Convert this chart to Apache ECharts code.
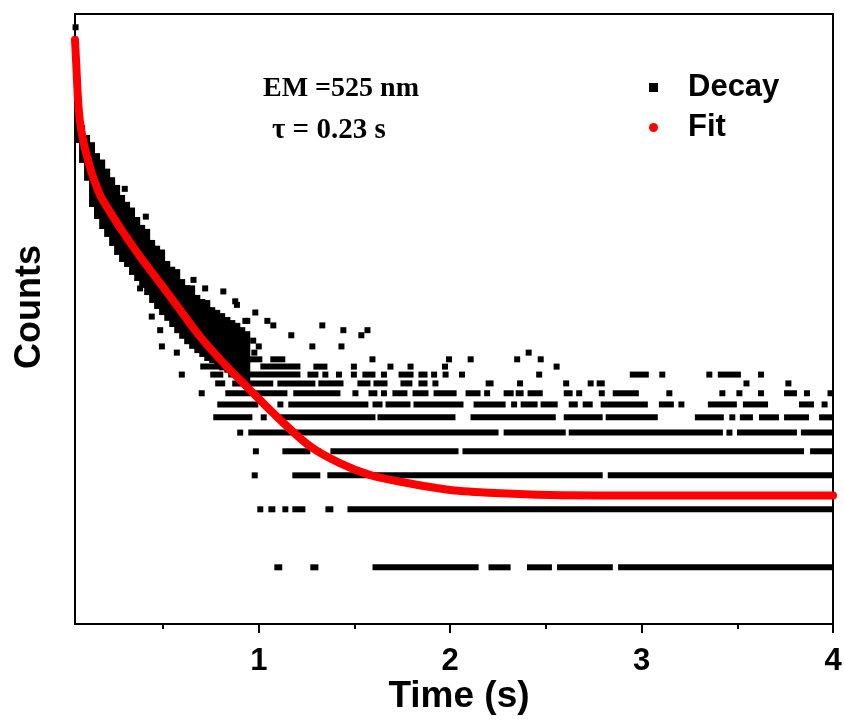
<!DOCTYPE html>
<html>
<head>
<meta charset="utf-8">
<script src="https://cdn.jsdelivr.net/npm/echarts@6/dist/echarts.min.js"></script>
<style>html,body{margin:0;padding:0;background:#fff}#chart{width:844px;height:720px}</style>
</head>
<body>
<div id="chart"></div>
<script>
// ---------- axis ranges / ticks ----------
const X_MIN = 0.04, X_MAX = 4;
const Y_MIN = 0.508, Y_MAX = 743;
const xMajorTicks = [1, 2, 3, 4];
const xMinorTicks = [0.5, 1.5, 2.5, 3.5];

// ---------- Fit curve (time s, counts) ----------
const fitTime   = [0.040, 0.048, 0.056, 0.066, 0.082, 0.103, 0.129, 0.171, 0.223, 0.276, 0.380, 0.485, 0.590, 0.694, 0.815, 0.940, 1.113, 1.270, 1.426, 1.583, 1.740, 2.002, 2.264, 2.525, 2.787, 3.310, 4.000];
const fitCounts = [546, 381, 266, 205, 165, 135, 110, 85.5, 69.8, 57.7, 40.9, 29.8, 21.6, 15.7, 11.5, 8.6, 5.81, 4.23, 3.46, 3.01, 2.78, 2.52, 2.42, 2.37, 2.36, 2.36, 2.36];

// ---------- Decay: runs of consecutive points at one count level [tFirst, tLast] ----------
const runsC1 = [[1.097,1.107],[1.285,1.296],[1.610,2.133],[2.216,2.300],[2.417,2.516],[2.574,2.834],[2.893,3.986]];
const runsC2 = [[1.008,1.008],[1.066,1.071],[1.139,1.139],[1.191,1.228],[1.364,1.374],[1.479,3.986]];
const runsC3 = [[0.979,0.979],[1.191,1.306],[1.374,2.781],[2.839,3.986]];
const runsC4 = [[0.985,0.985],[1.139,1.254],[1.309,1.309],[1.390,2.028],[2.080,3.833],[3.896,3.986]];
const runsC5 = [[0.903,0.903],[0.961,2.237],[2.295,2.588],[2.635,3.409],[3.459,3.459],[3.514,3.796],[3.848,3.986]];
const runsC6 = [[0.778,0.951],[1.026,1.026],[1.128,1.594],[1.636,2.012],[2.122,2.536],[2.609,2.781],[2.828,3.069],[3.294,3.414],[3.474,3.474],[3.529,3.566],[3.629,3.702],[3.760,3.859],[3.943,3.986]];
const runsC7 = [[0.799,0.982],[1.113,1.113],[1.170,1.557],[1.610,1.631],[1.678,1.777],[1.824,2.054],[2.138,2.274],[2.334,2.334],[2.384,2.441],[2.488,2.546],[2.635,2.651],[2.708,2.729],[2.802,3.017],[3.106,3.153],[3.208,3.208],[3.362,3.482],[3.545,3.645],[3.838,3.885],[3.956,3.956]];
const runsC8 = [[0.702,0.702],[0.841,1.134],[1.196,1.411],[1.505,1.505],[1.589,1.604],[1.654,1.654],[1.714,1.761],[1.819,1.871],[1.929,2.018],[2.096,2.143],[2.193,2.193],[2.295,2.316],[2.358,2.368],[2.420,2.468],[2.609,2.624],[2.674,2.674],[2.792,2.792],[2.865,2.970],[3.145,3.145],[3.422,3.422],[3.511,3.511],[3.624,3.624],[3.760,3.796],[3.864,3.864],[3.987,3.987]];
const runsC9 = [[0.788,0.809],[0.877,1.060],[1.113,1.280],[1.327,1.427],[1.531,1.568],[1.615,1.657],[1.756,1.787],[1.850,1.866],[1.923,1.923],[2.201,2.211],[2.365,2.365],[2.606,2.606],[2.734,2.734],[2.781,2.792],[3.548,3.548],[3.767,3.767]];
const runsC10 = [[0.762,0.799],[0.856,1.202],[1.270,1.296],[1.348,1.348],[1.419,1.419],[1.497,1.497],[1.557,1.594],[1.654,1.654],[1.746,1.793],[1.850,1.866],[1.916,1.916],[1.976,1.976],[2.062,2.062],[2.465,2.465],[2.954,3.022],[3.108,3.108],[3.354,3.354],[3.414,3.503],[3.624,3.624]];
const runsC11 = [[0.710,0.851],[0.903,0.903],[1.024,1.202],[1.301,1.343],[1.497,1.497],[1.688,1.688],[1.793,1.793],[1.973,1.973],[2.556,2.556]];
const runsC12 = [[0.945,1.003],[1.076,1.123],[1.594,1.594],[1.994,1.994],[2.107,2.107],[2.350,2.350],[2.473,2.473]];
const runsC13 = [[0.977,0.977],[2.410,2.410]];
const runsC14 = [[1.000,1.000],[1.280,1.280],[1.432,1.432]];
const runsC15 = [[0.971,0.971]];
const runsC16 = [[1.170,1.170],[1.536,1.536]];
const runsC17 = [[1.442,1.442],[1.568,1.568]];
const runsC18 = [[1.076,1.076],[1.332,1.332]];
const runsC19 = [[0.940,0.940],[1.045,1.045]];
const runsC21 = [[0.982,0.982]];
const runLevels = [1,2,3,4,5,6,7,8,9,10,11,12,13,14,15,16,17,18,19,21];
const runLists  = [runsC1,runsC2,runsC3,runsC4,runsC5,runsC6,runsC7,runsC8,runsC9,runsC10,runsC11,runsC12,runsC13,runsC14,runsC15,runsC16,runsC17,runsC18,runsC19,runsC21];

// ---------- Decay: dense early cloud, per time column [t, lowest count, highest count] ----------
const cloudColumns = [
  [0.051,165,215],[0.077,130,190],[0.103,105,169],[0.129,76.8,155],[0.155,66.5,136],
  [0.182,59,126],[0.208,53.7,113],[0.234,48.2,102],[0.260,43.3,93],[0.286,39.8,82.5],
  [0.312,37.5,76],[0.338,34.1,71],[0.365,31.7,63.4],[0.391,29.2,57.7],[0.417,26.8,55],
  [0.443,24.4,48.2],[0.469,22.7,45],[0.495,21.1,43],[0.522,19.7,37.5],[0.548,18.3,35],
  [0.574,17,34],[0.600,15.9,30.2],[0.626,14.9,28.1],[0.652,14.1,28],[0.679,13.4,25],
  [0.705,12.8,23.8],[0.731,12.2,23.5],[0.757,11.9,21.6],[0.783,11.4,20.9],[0.809,10.9,20.1],
  [0.836,10.6,19.2],[0.862,10.3,18.5],[0.888,10.1,17.9],[0.914,9.8,17.0],[0.940,9.6,16.2]
];
// ---------- Decay: isolated points [t, counts] ----------
const decayPoints = [[0.043,634],[0.659,31],[0.815,27],[0.877,24],[0.886,23],[0.930,19],[0.380,28],[0.441,20],[0.485,17],[0.494,14],[0.572,13],[0.598,10],[0.300,92],[0.410,66],[0.720,28]];

// ---------- build series data ----------
const decayData = [];
runLists.forEach((list, i) => list.forEach(r => decayData.push([r[0], r[1], runLevels[i], runLevels[i]])));
cloudColumns.forEach(c => decayData.push([c[0], c[0], c[1], c[2]]));
decayPoints.forEach(p => decayData.push([p[0], p[0], p[1], p[1]]));
const fitData = fitTime.map((t, i) => [t, fitCounts[i]]);

const SANS = "'Liberation Sans', Arial, Helvetica, sans-serif";
const SERIF = "'Liberation Serif', 'Times New Roman', serif";
const HALF = 3;

const chart = echarts.init(document.getElementById('chart'), null, {renderer: 'canvas'});
chart.setOption({
  animation: false,
  backgroundColor: '#ffffff',
  grid: {left: 75, right: 11, top: 14, bottom: 96, show: true, borderColor: '#000', borderWidth: 2,
         backgroundColor: 'transparent', outerBoundsMode: 'none', containLabel: false},
  legend: {
    orient: 'vertical', left: 644, top: 67, itemWidth: 9, itemHeight: 9, itemGap: 9,
    textStyle: {fontSize: 31, fontWeight: 'bold', fontFamily: SANS, color: '#000', lineHeight: 31, padding: [0, 0, 0, 25]},
    data: [{name: 'Decay', icon: 'rect'}, {name: 'Fit', icon: 'circle'}]
  },
  xAxis: [
    {
      type: 'value', min: X_MIN, max: X_MAX, position: 'bottom',
      axisLine: {show: true, onZero: false, lineStyle: {color: '#000', width: 2}},
      axisTick: {show: true, customValues: xMajorTicks, length: 9, lineStyle: {color: '#000', width: 2}},
      axisLabel: {show: true, customValues: xMajorTicks, fontSize: 31, fontWeight: 'bold', fontFamily: SANS, color: '#000', margin: 22},
      splitLine: {show: false},
      name: 'Time (s)', nameLocation: 'middle', nameGap: 54, nameMoveOverlap: false,
      nameTextStyle: {fontSize: 37, fontWeight: 'bold', fontFamily: SANS, color: '#000', padding: [0, 0, 0, 10]}
    },
    {
      type: 'value', min: X_MIN, max: X_MAX, position: 'bottom',
      axisLine: {show: false},
      axisTick: {show: true, customValues: xMinorTicks, length: 5, lineStyle: {color: '#000', width: 2}},
      axisLabel: {show: false}, splitLine: {show: false}
    }
  ],
  yAxis: {
    type: 'log', logBase: 10, min: Y_MIN, max: Y_MAX,
    axisLine: {show: true, onZero: false, lineStyle: {color: '#000', width: 2}},
    axisTick: {show: false}, axisLabel: {show: false}, splitLine: {show: false},
    name: 'Counts', nameLocation: 'middle', nameGap: 27,
    nameTextStyle: {fontSize: 36, fontWeight: 'bold', fontFamily: SANS, color: '#000', padding: [0, 0, 0, 24]}
  },
  graphic: [
    {type: 'text', left: 263, top: 75, style: {text: 'EM =525 nm', font: "bold 28px " + SERIF, fill: '#000'}},
    {type: 'text', left: 272, top: 116, style: {text: 'τ = 0.23 s', font: "bold 29px " + SERIF, fill: '#000'}}
  ],
  series: [
    {
      name: 'Decay', type: 'custom', xAxisIndex: 0, yAxisIndex: 0, clip: false,
      itemStyle: {color: '#000'},
      encode: {x: [0, 1], y: [2, 3]},
      data: decayData,
      renderItem: function (params, api) {
        const a = api.coord([api.value(0), api.value(3)]);
        const b = api.coord([api.value(1), api.value(2)]);
        return {
          type: 'rect',
          shape: {x: a[0] - HALF, y: a[1] - HALF, width: b[0] - a[0] + 2 * HALF, height: b[1] - a[1] + 2 * HALF},
          style: {fill: '#000'}
        };
      },
      z: 2
    },
    {
      name: 'Fit', type: 'line', xAxisIndex: 0, yAxisIndex: 0, data: fitData,
      smooth: 0.3, showSymbol: false, symbol: 'circle',
      itemStyle: {color: '#ff0000'},
      lineStyle: {color: '#ff0000', width: 8, cap: 'round', join: 'round'},
      z: 5
    }
  ]
});
</script>
</body>
</html>
